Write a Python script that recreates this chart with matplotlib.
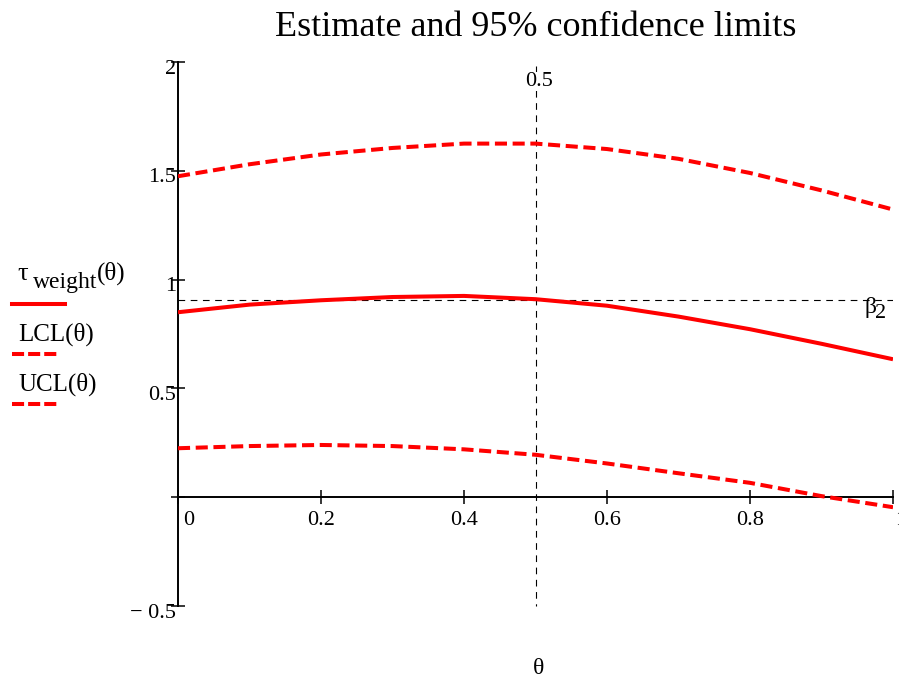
import matplotlib
matplotlib.use('Agg')
import matplotlib.pyplot as plt
import matplotlib.transforms as mtransforms

plt.rcParams['font.family'] = ['Liberation Serif', 'DejaVu Serif']

# values
theta = [0.0, 0.1, 0.2, 0.3, 0.4, 0.5, 0.6, 0.7, 0.8, 0.9, 1.0]
tau_weight = [0.85, 0.885, 0.905, 0.92, 0.925, 0.91, 0.88, 0.83, 0.772, 0.705, 0.634]
lcl = [0.225, 0.235, 0.24, 0.235, 0.22, 0.195, 0.155, 0.11, 0.066, 0.005, -0.046]
ucl = [1.475, 1.53, 1.575, 1.605, 1.625, 1.625, 1.6, 1.555, 1.49, 1.41, 1.322]
beta2 = 0.905
theta_mark = 0.5
xticks = [0, 0.2, 0.4, 0.6, 0.8, 1]
xtick_labels = ['0', '0.2', '0.4', '0.6', '0.8', '1']
yticks = [-0.5, 0, 0.5, 1, 1.5, 2]
ytick_labels = ['\u2212 0.5', '', '0.5', '1', '1.5', '2']

W, H = 899, 681
fig = plt.figure(figsize=(W / 100, H / 100), dpi=100)
ax = fig.add_axes([178 / W, 1 - 606 / H, 715 / W, 544 / H])
ax.set_xlim(0, 1)
ax.set_ylim(-0.5, 2)


def px(x, y):
    # pixel position (from top-left) -> figure fraction
    return x / W, 1 - y / H


red = '#ff0000'
ax.plot(theta, tau_weight, color=red, lw=2.9, solid_capstyle='butt', zorder=4)
ax.plot(theta, lcl, color=red, lw=2.9, linestyle=(0, (3, 1.4)), zorder=4)
ax.plot(theta, ucl, color=red, lw=2.9, linestyle=(0, (3, 1.4)), zorder=4)

# marker lines
ax.axhline(beta2, color='black', lw=0.8, linestyle=(0, (6, 5)), zorder=2)
ax.plot([theta_mark, theta_mark], [1.98, -0.5], color='black', lw=0.8,
        linestyle=(0, (6, 5)), zorder=2, clip_on=False)
fig.text(*px(539, 81), '0.5', fontsize=16, ha='center', va='center',
         bbox=dict(facecolor='white', edgecolor='none', pad=0), zorder=3)
fig.text(*px(864, 313), 'β', fontsize=17, ha='left', va='baseline', zorder=3)
fig.text(*px(875, 318), '2', fontsize=16, ha='left', va='baseline', zorder=3)

# axes through the origin
for s in ['top', 'right']:
    ax.spines[s].set_visible(False)
ax.spines['bottom'].set_position(('data', 0))
ax.spines['left'].set_linewidth(1.4)
ax.spines['bottom'].set_linewidth(1.4)
ax.set_xticks(xticks)
ax.set_yticks(yticks)
ax.set_xticklabels([])
ax.set_yticklabels([])
ax.tick_params(direction='inout', length=10, width=1.1, colors='black')

for v, lab in zip(xticks, xtick_labels):
    if v == 0:
        tr = mtransforms.offset_copy(ax.transData, fig=fig, x=5, y=-14, units='dots')
        ax.text(v, 0, lab, fontsize=16, ha='left', va='top', transform=tr)
    elif v == 1:
        tr = mtransforms.offset_copy(ax.transData, fig=fig, x=2, y=-14, units='dots')
        ax.text(v, 0, lab, fontsize=16, ha='left', va='top', transform=tr)
    else:
        tr = mtransforms.offset_copy(ax.transData, fig=fig, x=0, y=-14, units='dots')
        ax.text(v, 0, lab, fontsize=16, ha='center', va='top', transform=tr)

left = mtransforms.offset_copy(ax.transData, fig=fig, x=-2, y=-7, units='dots')
for v, lab in zip(yticks, ytick_labels):
    ax.text(0, v, lab, fontsize=16, ha='right', va='center', transform=left)

fig.text(*px(535.5, 27), 'Estimate and 95% confidence limits', fontsize=26,
         ha='center', va='center')
fig.text(*px(539, 668), 'θ', fontsize=17, ha='center', va='center')

# legend on the left
fig.text(*px(17, 280), 'τ', fontsize=19, ha='left', va='baseline')
fig.text(*px(33, 288), 'weight', fontsize=17, ha='left', va='baseline')
fig.text(*px(97, 280), '(θ)', fontsize=18, ha='left', va='baseline')
fig.text(*px(18, 334), 'LCL(θ)', fontsize=18, ha='left', va='center')
fig.text(*px(18, 384), 'UCL(θ)', fontsize=18, ha='left', va='center')
x0, y0 = px(12, 304)
x1, _ = px(65, 304)
fig.add_artist(plt.Line2D([x0, x1], [y0, y0], color=red, lw=2.9,
                          transform=fig.transFigure))
for ypix in [354, 404]:
    x0, y0 = px(12, ypix)
    x1, _ = px(57, ypix)
    fig.add_artist(plt.Line2D([x0, x1], [y0, y0], color=red, lw=2.9,
                              linestyle=(0, (3, 1.0)), transform=fig.transFigure))

fig.savefig('out.png', dpi=100)
